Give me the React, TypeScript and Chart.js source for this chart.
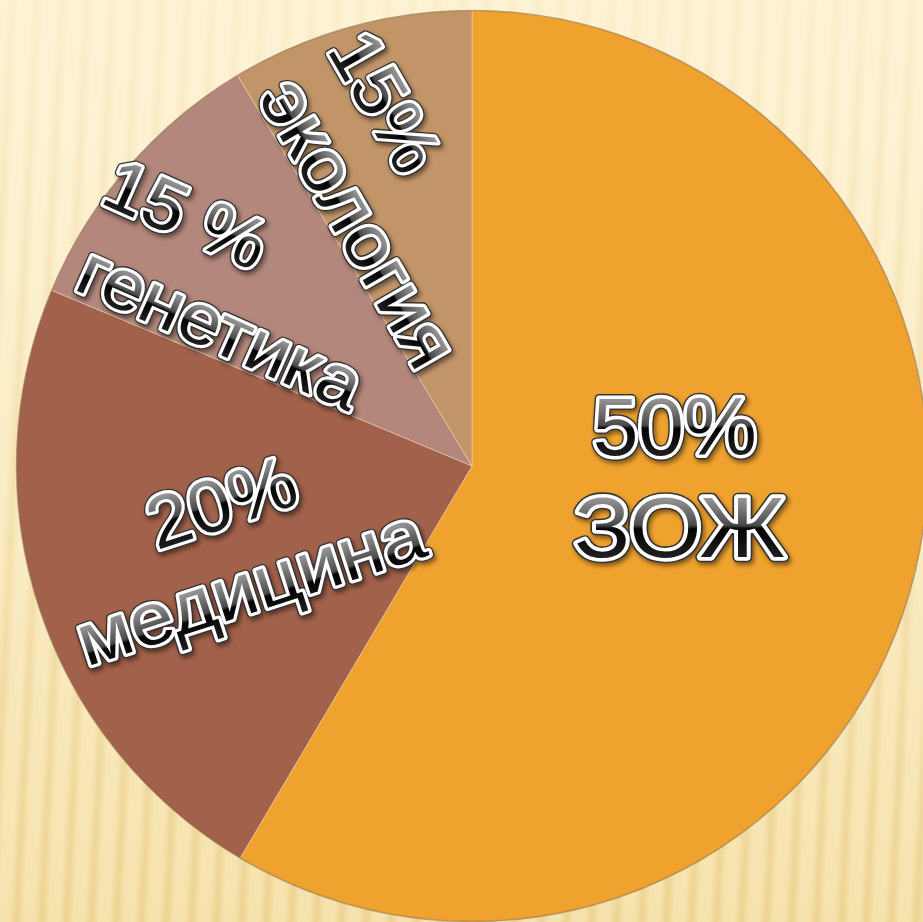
import { useEffect, useRef } from "react";
import { Chart, registerables } from "chart.js";

Chart.register(...registerables);

// ---- data ----
const categories = ["ЗОЖ", "медицина", "генетика", "экология"];
const sliceValues = [58.5, 22.8, 10.1, 8.6];
const percentLabels = ["50%", "20%", "15 %", "15%"];

// ---- style ----
const sliceColors = ["#EFA22E", "#A2614A", "#B3877B", "#C29569"];

// label placement: offsets from pie centre in units of the outer radius, rotation in degrees, font px
const labelLayout = [
  { pct: [0.445, -0.086], name: [0.456, 0.134], rot: 0, pSize: 82, nSize: 86, pSx: 1.0, nSx: 1.08 },
  { pct: [-0.55, 0.08], name: [-0.478, 0.292], rot: -18, pSize: 74, nSize: 74, pSx: 1.03, nSx: 1.06 },
  { pct: [-0.627, -0.553], name: [-0.557, -0.292], rot: 24, pSize: 72, nSize: 72, pSx: 1.04, nSx: 1.05 },
  { pct: [-0.19, -0.8], name: [-0.259, -0.527], rot: 60, pSize: 72, nSize: 74, pSx: 1.04, nSx: 1.05 },
];

function drawFancyText(
  ctx: CanvasRenderingContext2D,
  text: string,
  x: number,
  y: number,
  rotDeg: number,
  size: number,
  sx: number
) {
  ctx.save();
  ctx.translate(x, y);
  ctx.rotate((rotDeg * Math.PI) / 180);
  ctx.scale(sx, 1);
  ctx.font = `${size}px "Liberation Sans", Arial, sans-serif`;
  ctx.textAlign = "center";
  ctx.textBaseline = "alphabetic";
  const m = ctx.measureText(text);
  const asc = m.actualBoundingBoxAscent;
  const desc = m.actualBoundingBoxDescent;
  const by = (asc - desc) / 2;
  ctx.lineJoin = "round";
  ctx.miterLimit = 2;
  // dark outer rim with soft shadow
  ctx.shadowColor = "rgba(0,0,0,0.45)";
  ctx.shadowBlur = 4;
  ctx.shadowOffsetX = 2;
  ctx.shadowOffsetY = 3;
  ctx.strokeStyle = "#333333";
  ctx.lineWidth = size * 0.12;
  ctx.strokeText(text, 0, by);
  ctx.shadowColor = "transparent";
  ctx.shadowBlur = 0;
  ctx.shadowOffsetX = 0;
  ctx.shadowOffsetY = 0;
  // white rim
  ctx.strokeStyle = "#ffffff";
  ctx.lineWidth = size * 0.085;
  ctx.strokeText(text, 0, by);
  // glossy fill
  const g = ctx.createLinearGradient(0, by - asc, 0, by + desc);
  g.addColorStop(0, "#9a9a9a");
  g.addColorStop(0.47, "#4a4a4a");
  g.addColorStop(0.53, "#030303");
  g.addColorStop(1, "#202020");
  ctx.fillStyle = g;
  ctx.fillText(text, 0, by);
  ctx.restore();
}

const backgroundPlugin = {
  id: "stripedBackground",
  beforeDraw(chart: any) {
    const { ctx, width, height } = chart;
    ctx.save();
    const g = ctx.createLinearGradient(0, 0, 0, height);
    g.addColorStop(0, "#FDF1CE");
    g.addColorStop(1, "#F6E2AC");
    ctx.fillStyle = g;
    ctx.fillRect(0, 0, width, height);
    ctx.save();
    ctx.transform(1, 0, -0.05, 1, 0, 0);
    for (let x = -120; x < width + 120; x += 25) {
      const sg = ctx.createLinearGradient(x, 0, x + 15, 0);
      sg.addColorStop(0, "rgba(222,186,100,0)");
      sg.addColorStop(0.5, "rgba(222,186,100,0.38)");
      sg.addColorStop(1, "rgba(222,186,100,0)");
      ctx.fillStyle = sg;
      ctx.fillRect(x, 0, 15, height);
    }
    ctx.restore();
    const f = ctx.createLinearGradient(0, 0, 0, height);
    f.addColorStop(0, "rgba(253,243,214,0.75)");
    f.addColorStop(0.55, "rgba(253,243,214,0.3)");
    f.addColorStop(1, "rgba(253,243,214,0)");
    ctx.fillStyle = f;
    ctx.fillRect(0, 0, width, height);
    ctx.restore();
  },
};

const labelPlugin = {
  id: "sliceLabels",
  afterDatasetsDraw(chart: any) {
    const meta = chart.getDatasetMeta(0);
    const arc = meta.data[0];
    if (!arc) return;
    const { x, y, outerRadius } = arc.getProps(["x", "y", "outerRadius"], true);
    const ctx: CanvasRenderingContext2D = chart.ctx;
    ctx.save();
    ctx.beginPath();
    ctx.arc(x, y, outerRadius, 0, Math.PI * 2);
    ctx.strokeStyle = "rgba(110,80,40,0.45)";
    ctx.lineWidth = 1.5;
    ctx.stroke();
    ctx.restore();
    categories.forEach((name, i) => {
      const L = labelLayout[i];
      drawFancyText(ctx, percentLabels[i], x + L.pct[0] * outerRadius, y + L.pct[1] * outerRadius, L.rot, L.pSize, L.pSx);
      drawFancyText(ctx, name, x + L.name[0] * outerRadius, y + L.name[1] * outerRadius, L.rot, L.nSize, L.nSx);
    });
  },
};

export default function App() {
  const canvasRef = useRef<HTMLCanvasElement | null>(null);

  useEffect(() => {
    if (!canvasRef.current) return;
    const chart = new Chart(canvasRef.current, {
      type: "pie",
      data: {
        labels: categories,
        datasets: [
          {
            data: sliceValues,
            backgroundColor: sliceColors,
            borderColor: "rgba(255,236,210,0.4)",
            borderWidth: 1,
          },
        ],
      },
      options: {
        responsive: false,
        animation: false,
        layout: { padding: 10 },
        plugins: {
          legend: { display: false },
          tooltip: { enabled: false },
        },
      },
      plugins: [backgroundPlugin, labelPlugin],
    });
    return () => chart.destroy();
  }, []);

  return (
    <div
      style={{
        position: "fixed",
        left: 0,
        top: 0,
        width: 923,
        height: 922,
        overflow: "hidden",
      }}
    >
      <canvas ref={canvasRef} width={944} height={932} style={{ display: "block", width: 944, height: 932 }} />
    </div>
  );
}
